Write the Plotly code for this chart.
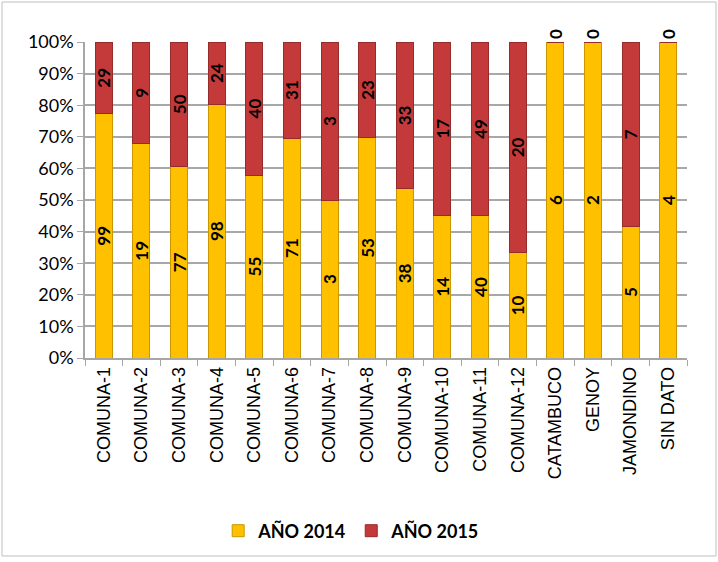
import plotly.graph_objects as go

categories = ["COMUNA-1", "COMUNA-2", "COMUNA-3", "COMUNA-4", "COMUNA-5", "COMUNA-6",
              "COMUNA-7", "COMUNA-8", "COMUNA-9", "COMUNA-10", "COMUNA-11", "COMUNA-12",
              "CATAMBUCO", "GENOY", "JAMONDINO", "SIN DATO"]
anio_2014 = [99, 19, 77, 98, 55, 71, 3, 53, 38, 14, 40, 10, 6, 2, 5, 4]
anio_2015 = [29, 9, 50, 24, 40, 31, 3, 23, 33, 17, 49, 20, 0, 0, 7, 0]
y_ticks = [0, 0.1, 0.2, 0.3, 0.4, 0.5, 0.6, 0.7, 0.8, 0.9, 1.0]

lab_family = "Lato, Liberation Sans, sans-serif"

fig = go.Figure()
fig.add_trace(go.Bar(
    x=categories, y=anio_2014, name="<b>AÑO 2014</b>",
    marker=dict(color="#FFC000", line=dict(color="#C99700", width=1)),
    text=[str(v) for v in anio_2014], textposition="inside",
    insidetextanchor="middle", textangle=-90, constraintext="none",
    textfont=dict(family=lab_family, size=17, color="black", weight="bold"),
    width=0.45, cliponaxis=False,
))
fig.add_trace(go.Bar(
    x=categories, y=anio_2015, name="<b>AÑO 2015</b>",
    marker=dict(color="#C43A3A", line=dict(color="#962B2C", width=1)),
    text=[str(v) for v in anio_2015],
    textposition=["inside" if v > 0 else "outside" for v in anio_2015],
    insidetextanchor="middle", textangle=-90, constraintext="none",
    textfont=dict(family=lab_family, size=17, color="black", weight="bold"),
    width=0.45, cliponaxis=False,
))

L, R, T, B = 85, 31, 42, 204
W, H = 718, 562
pw, ph = W - L - R, H - T - B

def px(x):
    return (x - L) / pw

def py(y):
    return (H - B - y) / ph

fig.update_layout(
    width=W, height=H,
    barmode="stack", barnorm="fraction",
    margin=dict(l=L, r=R, t=T, b=B),
    paper_bgcolor="white", plot_bgcolor="white",
    showlegend=True,
    legend=dict(orientation="h", x=0.443, xanchor="center", y=py(531), yanchor="middle",
                font=dict(family=lab_family, size=18, color="black"),
                traceorder="normal"),
    xaxis=dict(
        tickangle=-90, tickson="boundaries", ticks="outside", ticklen=6,
        tickcolor="#A6A6A6", showline=True, linecolor="#A6A6A6", linewidth=1.5,
        tickfont=dict(family="Liberation Sans, Arial, sans-serif", size=18, color="black"),
        showgrid=False,
    ),
    yaxis=dict(
        range=[0, 1], tickvals=y_ticks, tickformat=".0%",
        ticks="outside", ticklen=6, tickcolor="#A6A6A6",
        showline=True, linecolor="#A6A6A6", linewidth=1.5,
        showgrid=True, gridcolor="#A8A8A8", gridwidth=1.5,
        tickfont=dict(family=lab_family, size=18, color="black"),
        zeroline=False,
    ),
    shapes=[dict(type="rect", xref="paper", yref="paper",
                 x0=px(2), x1=px(716), y0=py(556), y1=py(2),
                 line=dict(color="#BFBFBF", width=1), fillcolor="rgba(0,0,0,0)", layer="below")],
)

fig.write_html("out.html", config={"displayModeBar": False},
               post_script="document.body.style.margin='0px';document.body.style.overflow='hidden';")
